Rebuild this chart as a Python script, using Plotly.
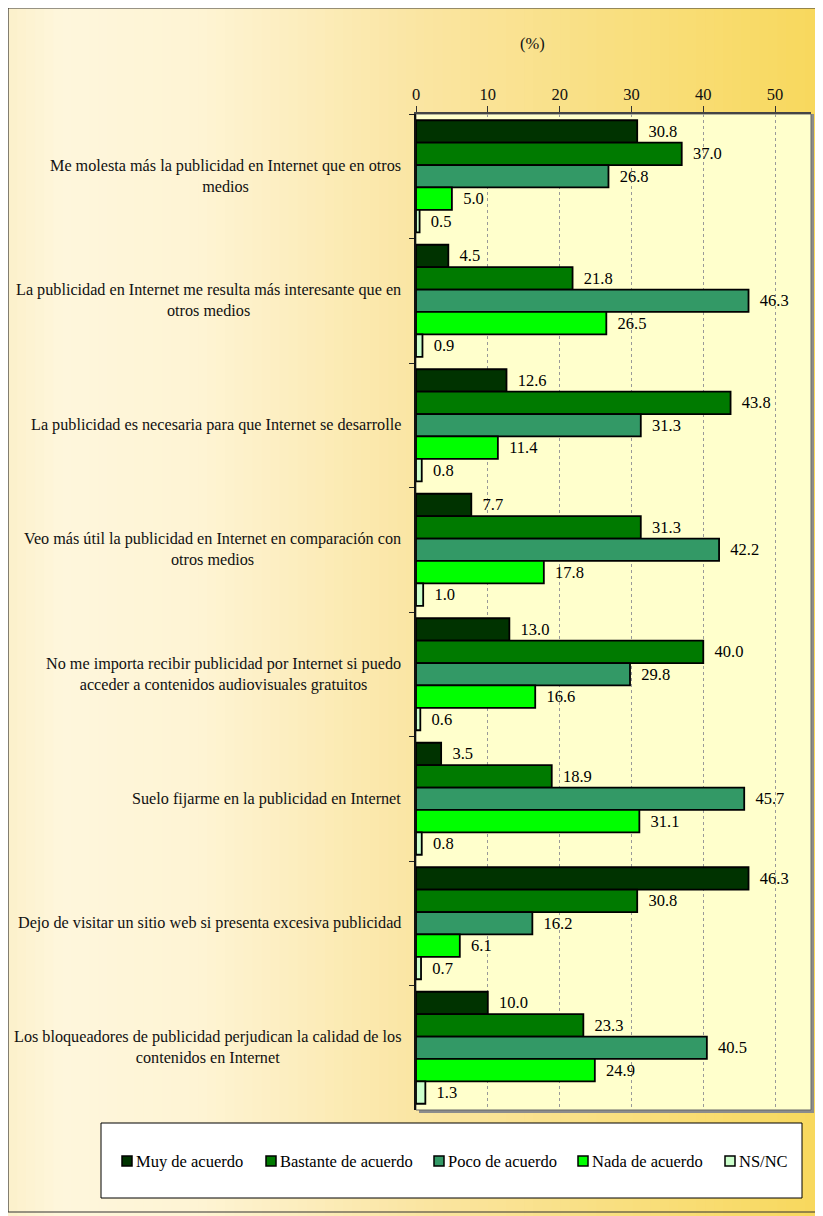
import plotly.graph_objects as go

categories = [
    "Me molesta más la publicidad en Internet que en otros<br>medios",
    "La publicidad en Internet me resulta más interesante que en<br>otros medios",
    "La publicidad es necesaria para que Internet se desarrolle",
    "Veo más útil la publicidad en Internet en comparación con<br>otros medios",
    "No me importa recibir publicidad por Internet si puedo<br>acceder a contenidos audiovisuales gratuitos",
    "Suelo fijarme en la publicidad en Internet",
    "Dejo de visitar un sitio web si presenta excesiva publicidad",
    "Los bloqueadores de publicidad perjudican la calidad de los<br>contenidos en Internet",
]
muy = [30.8, 4.5, 12.6, 7.7, 13.0, 3.5, 46.3, 10.0]
bastante = [37.0, 21.8, 43.8, 31.3, 40.0, 18.9, 30.8, 23.3]
poco = [26.8, 46.3, 31.3, 42.2, 29.8, 45.7, 16.2, 40.5]
nada = [5.0, 26.5, 11.4, 17.8, 16.6, 31.1, 6.1, 24.9]
nsnc = [0.5, 0.9, 0.8, 1.0, 0.6, 0.8, 0.7, 1.3]

series_names = ["Muy de acuerdo", "Bastante de acuerdo", "Poco de acuerdo",
                "Nada de acuerdo", "NS/NC"]
series_vals = [muy, bastante, poco, nada, nsnc]
colors = ["#003300", "#007A00", "#339966", "#00FF00", "#CCFFCC"]

FONT = "Liberation Serif"
FS = 16.5
OFF = 8  # page body margin
W, H = 823 - OFF, 1216 - OFF
L, R, T, B = 416 - OFF, 12, 114 - OFF, 106
pw, ph = W - L - R, H - T - B


# page pixel -> paper coords
def px_x(p):
    return (p - OFF - L) / pw


def px_y(p):
    return (H - B - (p - OFF)) / ph


fig = go.Figure()
for name, vals, col in zip(series_names, series_vals, colors):
    fig.add_trace(go.Bar(
        y=categories, x=vals, orientation="h", name=name,
        marker=dict(color=col, line=dict(color="black", width=1.8)),
        text=["\u00a0\u00a0" + f"{v:.1f}" for v in vals],
        textposition="outside", constraintext="none", cliponaxis=False,
        textfont=dict(family=FONT, size=FS, color="black"),
        showlegend=False,
    ))

# background gradient (page)
stops = [(0, (252, 239, 200)), (60, (254, 246, 220)), (200, (254, 244, 212)),
         (420, (250, 229, 162)), (650, (249, 222, 122)), (823, (248, 216, 92))]
shapes = []
n = 90
for i in range(n):
    x0p = OFF + (823 - OFF) * i / n
    x1p = OFF + (823 - OFF) * (i + 1) / n + 1
    xm = (x0p + x1p) / 2
    for (a, ca), (b, cb) in zip(stops[:-1], stops[1:]):
        if a <= xm <= b:
            t = (xm - a) / (b - a)
            c = tuple(int(round(ca[k] + (cb[k] - ca[k]) * t)) for k in range(3))
            break
    shapes.append(dict(type="rect", xref="paper", yref="paper", layer="below",
                       x0=px_x(x0p), x1=px_x(x1p), y0=px_y(1216), y1=px_y(OFF),
                       fillcolor="rgb(%d,%d,%d)" % c, line=dict(width=0)))

# plot area shadow + background
shapes.append(dict(type="rect", xref="paper", yref="paper", layer="below",
                   x0=px_x(416 + 3), x1=px_x(811 + 3), y0=px_y(1110 + 3), y1=1,
                   fillcolor="#8c8c8c", line=dict(width=0)))
shapes.append(dict(type="rect", xref="paper", yref="paper", layer="below",
                   x0=0, x1=1, y0=0, y1=1,
                   fillcolor="#FFFFCC", line=dict(color="#666666", width=1)))

# legend box
shapes.append(dict(type="rect", xref="paper", yref="paper", layer="below",
                   x0=px_x(101), x1=px_x(802), y0=px_y(1198), y1=px_y(1123),
                   fillcolor="white", line=dict(color="black", width=1)))

# outer border
shapes.append(dict(type="rect", xref="paper", yref="paper", layer="above",
                   x0=px_x(8), x1=px_x(823), y0=px_y(1212), y1=px_y(8),
                   line=dict(color="#333333", width=1.2)))

annotations = []
for cat in categories:
    annotations.append(dict(
        x=0, xref="paper", y=cat, yref="y", xanchor="right", yanchor="middle",
        xshift=-13, text=cat, showarrow=False, align="center",
        font=dict(family=FONT, size=16.2, color="#111111"),
    ))
annotations.append(dict(
    x=px_x(518), y=px_y(32), xref="paper", yref="paper", text="(%)",
    showarrow=False, font=dict(family=FONT, size=FS, color="#111111"),
))

# legend entries (symbol + label) inside the box
leg_x = [122, 266, 434, 578, 725]
for lx, name, col in zip(leg_x, series_names, colors):
    shapes.append(dict(type="rect", xref="paper", yref="paper", layer="above",
                       x0=px_x(lx), x1=px_x(lx + 10), y0=px_y(1166), y1=px_y(1156),
                       fillcolor=col, line=dict(color="black", width=1.5)))
    annotations.append(dict(
        x=px_x(lx + 12), y=px_y(1161), xref="paper", yref="paper",
        xanchor="left", yanchor="middle", text=name, showarrow=False,
        font=dict(family=FONT, size=FS, color="black"),
    ))

fig.update_layout(
    width=W, height=H,
    margin=dict(l=L, r=R, t=T, b=B),
    paper_bgcolor="#FEF4D6",
    plot_bgcolor="rgba(0,0,0,0)",
    barmode="group", bargap=0.1, bargroupgap=0,
    font=dict(family=FONT, size=FS, color="#111111"),
    shapes=shapes,
    annotations=annotations,
    showlegend=False,
    xaxis=dict(
        side="top", range=[0, 55], tickvals=[0, 10, 20, 30, 40, 50],
        ticks="outside", ticklen=6, tickcolor="#333333", tickwidth=1,
        showline=True, linecolor="#444444", linewidth=1.5,
        showgrid=True, gridcolor="#999999", griddash="dot", gridwidth=1,
        zeroline=False,
        tickfont=dict(family=FONT, size=FS, color="#111111"),
    ),
    yaxis=dict(
        autorange="reversed", showticklabels=False,
        ticks="outside", tickson="boundaries", ticklen=5, tickcolor="#222222",
        showline=True, linecolor="#111111", linewidth=1.5,
        showgrid=False, zeroline=False,
    ),
)

fig.write_html("out.html")
